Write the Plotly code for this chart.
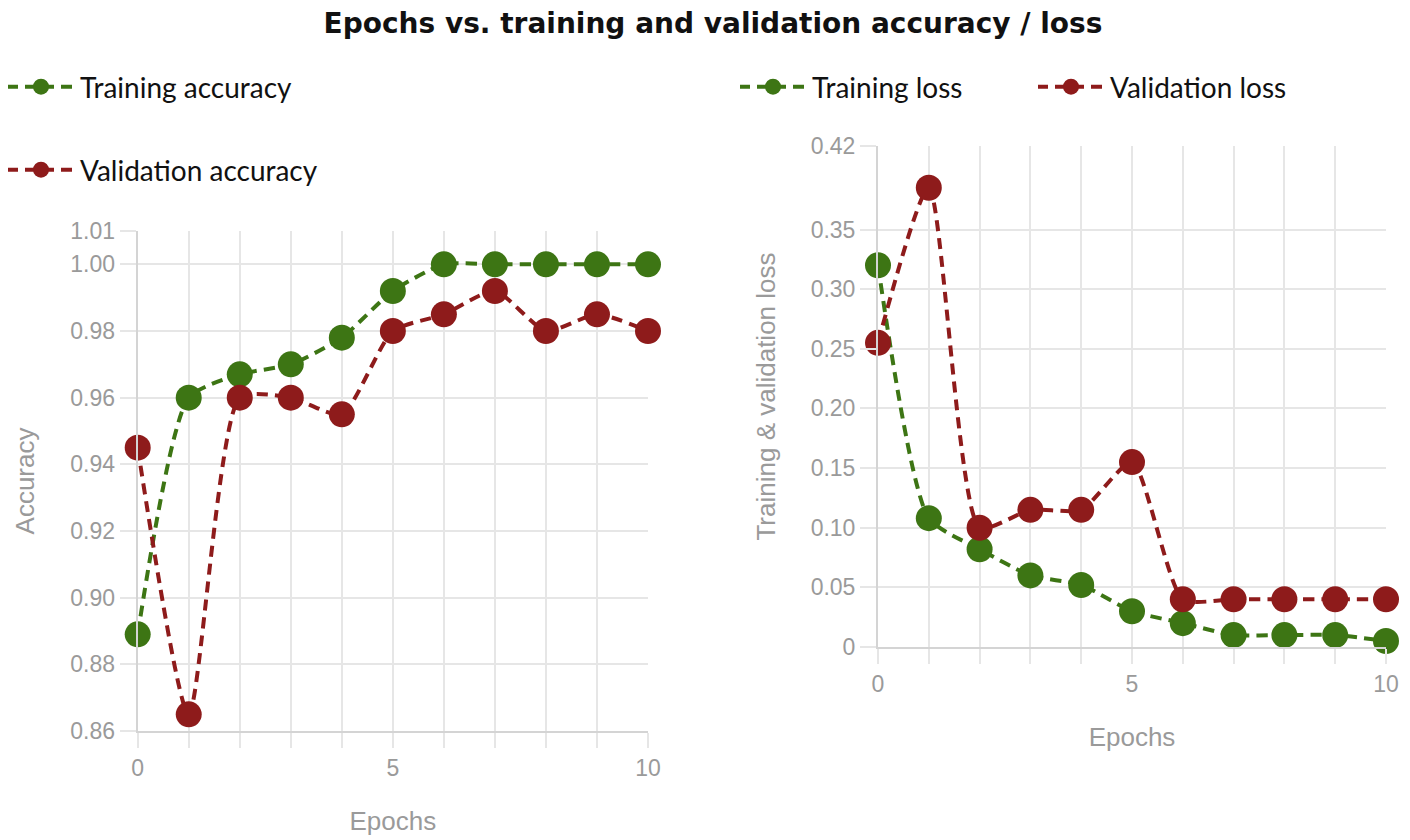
import plotly.graph_objects as go

epochs = [0, 1, 2, 3, 4, 5, 6, 7, 8, 9, 10]
train_acc = [0.889, 0.960, 0.967, 0.970, 0.978, 0.992, 1.000, 1.000, 1.000, 1.000, 1.000]
val_acc = [0.945, 0.865, 0.960, 0.960, 0.955, 0.980, 0.985, 0.992, 0.980, 0.985, 0.980]
train_loss = [0.320, 0.108, 0.082, 0.060, 0.052, 0.030, 0.020, 0.010, 0.010, 0.010, 0.005]
val_loss = [0.255, 0.385, 0.100, 0.115, 0.115, 0.155, 0.040, 0.040, 0.040, 0.040, 0.040]

acc_ticks = [0.86, 0.88, 0.90, 0.92, 0.94, 0.96, 0.98, 1.00, 1.01]
acc_ticktext = ["0.86", "0.88", "0.90", "0.92", "0.94", "0.96", "0.98", "1.00", "1.01"]
loss_ticks = [0, 0.05, 0.10, 0.15, 0.20, 0.25, 0.30, 0.35, 0.42]
loss_ticktext = ["0", "0.05", "0.10", "0.15", "0.20", "0.25", "0.30", "0.35", "0.42"]
epoch_ticktext = ["0", "", "", "", "", "5", "", "", "", "", "10"]

GREEN = "#3d7514"
RED = "#8e1b1b"
W, H = 1410, 840
OFF = 8  # page body margin offset


def px_x(v):
    return (v - OFF) / W


def px_y(v):
    return 1 - (v - OFF) / H


def trace(x, y, name, color, xa, ya, legend):
    return go.Scatter(
        x=x, y=y, name=name, mode="lines+markers",
        line=dict(color=color, width=4, dash="11px,7px", shape="spline", smoothing=0.6),
        marker=dict(color=color, size=26),
        xaxis=xa, yaxis=ya, legend=legend, cliponaxis=False,
    )


fig = go.Figure()
fig.add_trace(trace(epochs, train_acc, "Training accuracy", GREEN, "x", "y", "legend"))
fig.add_trace(trace(epochs, val_acc, "Validation accuracy", RED, "x", "y", "legend2"))
fig.add_trace(trace(epochs, train_loss, "Training loss", GREEN, "x2", "y2", "legend3"))
fig.add_trace(trace(epochs, val_loss, "Validation loss", RED, "x2", "y2", "legend4"))

tick_font = dict(family="Liberation Sans, Arial, sans-serif", size=23, color="#9a9a9a")
title_font = dict(family="Liberation Sans, Arial, sans-serif", size=26, color="#9a9a9a")
grid = "#e6e6e6"


def xaxis(domain, anchor):
    return dict(
        domain=domain, anchor=anchor, range=[0, 10], automargin=False,
        tickvals=epochs, ticktext=epoch_ticktext,
        showgrid=True, gridcolor=grid, gridwidth=1.5,
        ticks="outside", ticklen=15, tickcolor=grid, tickwidth=1.5,
        showline=True, linecolor="#d4d4d4", linewidth=2,
        zeroline=False, tickfont=tick_font,
        title=dict(text="Epochs", font=title_font, standoff=32),
    )


def yaxis(domain, anchor, rng, vals, texts, title):
    return dict(
        domain=domain, anchor=anchor, range=rng, automargin=False,
        tickvals=vals, ticktext=texts,
        showgrid=True, gridcolor=grid, gridwidth=1.5,
        ticks="outside", ticklen=16, tickcolor=grid, tickwidth=1.5,
        showline=True, linecolor="#d4d4d4", linewidth=2,
        zeroline=False, tickfont=tick_font,
        title=dict(text=title, font=title_font, standoff=28),
    )


legend_common = dict(
    font=dict(family="Lato, Noto Sans, sans-serif", size=28, color="#111111"),
    bgcolor="rgba(0,0,0,0)", itemwidth=68, yanchor="middle", xanchor="left",
    indentation=-6,
)

fig.update_layout(
    width=W, height=H,
    margin=dict(l=0, r=0, t=0, b=0),
    paper_bgcolor="white", plot_bgcolor="white",
    title=dict(
        text="<b>Epochs vs. training and validation accuracy / loss</b>",
        x=0.5, xanchor="center", y=1 - 5 / H, yanchor="top", yref="container",
        pad=dict(t=0, b=0, l=0, r=0),
        font=dict(family="DejaVu Sans, sans-serif", size=28, color="#111111"),
    ),
    xaxis=xaxis([px_x(137.7), px_x(648)], "y"),
    yaxis=yaxis([px_y(731), px_y(231)], "x", [0.86, 1.01], acc_ticks, acc_ticktext, "Accuracy"),
    xaxis2=xaxis([px_x(878), px_x(1386)], "y2"),
    yaxis2=yaxis([px_y(647), px_y(146)], "x2", [0, 0.42], loss_ticks, loss_ticktext,
                 "Training &amp; validation loss"),
    legend=dict(x=0.0, y=px_y(87), **legend_common),
    legend2=dict(x=0.0, y=px_y(170), **legend_common),
    legend3=dict(x=px_x(740), y=px_y(87), **legend_common),
    legend4=dict(x=px_x(1038), y=px_y(87), **legend_common),
    showlegend=True,
)

fig.write_html("out.html")
